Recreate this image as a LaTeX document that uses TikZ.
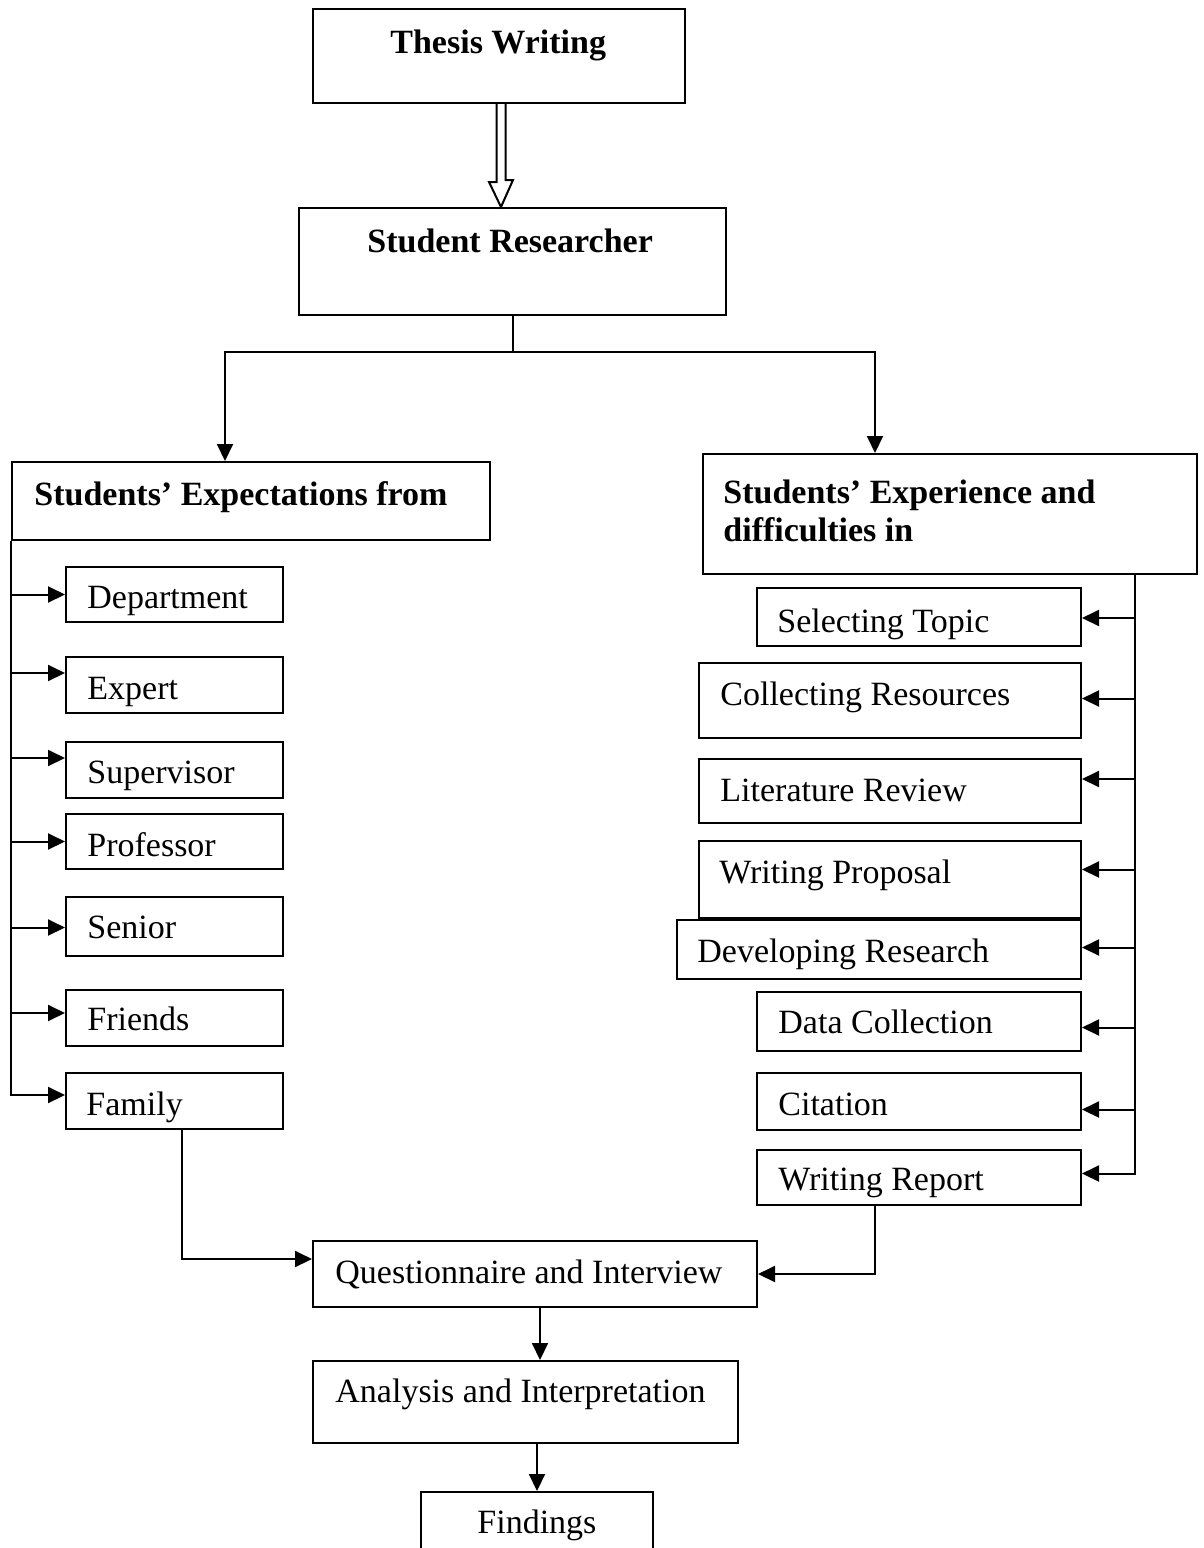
\documentclass[tikz,border=0pt]{standalone}
\usepackage{fontspec}
\setmainfont{Liberation Serif}
\usetikzlibrary{arrows.meta,fit}
\tikzset{
  box/.style={draw, line width=1pt, inner sep=0pt},
  txt/.style={anchor=base west, inner sep=0pt, font=\fontsize{17}{20}\selectfont},
  btxt/.style={txt, font=\fontsize{17}{20}\selectfont\bfseries},
  arr/.style={-{Triangle[length=8.5pt,width=8pt]}, line width=1pt},
}
\begin{document}
\begin{tikzpicture}[x=0.5pt,y=-0.5pt,line join=miter]
  \useasboundingbox (0,0) rectangle (1204,1548);
%%
  % Node: thesis
  \node[box, fit={(313,9) (685,103)}] (thesis) {};
  \node[btxt] (thesis-t) at (390,53) {Thesis Writing};
  % Node: researcher
  \node[box, fit={(299,208) (726,315)}] (researcher) {};
  \node[btxt] (researcher-t) at (367,252) {Student Researcher};
  % Node: expect
  \node[box, fit={(12,462) (490,540)}] (expect) {};
  \node[btxt] (expect-t) at (34,505) {Students’ Expectations from};
  % Node: exper
  \node[box, fit={(703,454) (1197,574)}] (exper) {};
  \node[btxt] (exper-t1) at (723,503) {Students’ Experience and};
  \node[btxt] (exper-t2) at (723,541) {difficulties in};
%%
  % Left column
  \node[box, fit={(66,567) (283,622)}] (dept) {};
  \node[txt] (dept-t) at (87,608) {Department};
  \node[box, fit={(66,657) (283,713)}] (expert) {};
  \node[txt] (expert-t) at (87,699) {Expert};
  \node[box, fit={(66,742) (283,798)}] (superv) {};
  \node[txt] (superv-t) at (87,783) {Supervisor};
  \node[box, fit={(66,814) (283,869)}] (prof) {};
  \node[txt] (prof-t) at (87,856) {Professor};
  \node[box, fit={(66,897) (283,956)}] (senior) {};
  \node[txt] (senior-t) at (87,938) {Senior};
  \node[box, fit={(66,990) (283,1046)}] (friends) {};
  \node[txt] (friends-t) at (87,1030) {Friends};
  \node[box, fit={(66,1073) (283,1129)}] (family) {};
  \node[txt] (family-t) at (86,1115) {Family};
%%
  % Right column
  \node[box, fit={(757,588) (1081,646)}] (topic) {};
  \node[txt] (topic-t) at (777,632) {Selecting Topic};
  \node[box, fit={(699,663) (1081,738)}] (resources) {};
  \node[txt] (resources-t) at (720,705) {Collecting Resources};
  \node[box, fit={(699,759) (1081,823)}] (review) {};
  \node[txt] (review-t) at (720,801) {Literature Review};
  \node[box, fit={(699,841) (1081,918)}] (proposal) {};
  \node[txt] (proposal-t) at (719,883) {Writing Proposal};
  \node[box, fit={(677,920) (1081,979)}] (develop) {};
  \node[txt] (develop-t) at (697,962) {Developing Research};
  \node[box, fit={(757,992) (1081,1051)}] (datacol) {};
  \node[txt] (datacol-t) at (778,1033) {Data Collection};
  \node[box, fit={(757,1073) (1081,1130)}] (citation) {};
  \node[txt] (citation-t) at (778,1115) {Citation};
  \node[box, fit={(757,1150) (1081,1205)}] (report) {};
  \node[txt] (report-t) at (778,1190) {Writing Report};
%%
  % Bottom
  \node[box, fit={(313,1241) (757,1307)}] (quest) {};
  \node[txt] (quest-t) at (335,1283) {Questionnaire and Interview};
  \node[box, fit={(313,1361) (738,1443)}] (analysis) {};
  \node[txt] (analysis-t) at (335,1402) {Analysis and Interpretation};
  \node[box, fit={(421,1492) (653,1556)}] (findings) {};
  \node[txt] (findings-t) at (477,1533) {Findings};
%%
  % Edge: thesis -> researcher (hollow)
  \draw[line width=1pt] ([xshift=-1.25pt]thesis.south) -- ++(0,-39pt) -- ++(-3.75pt,0)
    -- ([xshift=1pt]thesis.south |- researcher.north) -- ++(6pt,13.5pt) -- ++(-3.75pt,0)
    -- ([xshift=3.25pt]thesis.south);
  % Edge: researcher -> expect, exper
  \draw[line width=1pt] (researcher.south) -- ++(0,-18pt) coordinate (split);
  \draw[arr] (split) -| ([xshift=-13pt]expect.north);
  \draw[arr] (split) -| ([xshift=-37.5pt]exper.north);
  % Edge: expect -> left column
  \draw[arr] (expect.south west) |- ([yshift=3pt]family.west);
  \foreach \n/\s in {dept/0,expert/6,superv/6,prof/0,senior/-0.5,friends/2.5}
    \draw[arr] (expect.south west |- \n.west) ++(0,\s pt) -- ([yshift=\s pt]\n.west);
  % Edge: exper -> right column
  \path ([xshift=-31.5pt]exper.south east) coordinate (rbus);
  \draw[arr] (rbus) |- ([yshift=2pt]report.east);
  \foreach \n/\s in {topic/-0.5,resources/1,review/6,proposal/5,develop/1,datacol/-3,citation/-4}
    \draw[arr] (rbus |- \n.east) ++(0,\s pt) -- ([yshift=\s pt]\n.east);
  % Edge: family -> quest
  \draw[arr] ([xshift=3.75pt]family.south) |- ([yshift=7.5pt]quest.west);
  % Edge: report -> quest
  \draw[arr] ([xshift=-22pt]report.south) |- (quest.east);
  % Edge: quest -> analysis
  \draw[arr] (quest.south) ++(2.5pt,0) coordinate (q1) -- (q1 |- analysis.north);
  % Edge: analysis -> findings
  \draw[arr] (findings.north |- analysis.south) -- (findings.north);
%
\end{tikzpicture}
\end{document}
